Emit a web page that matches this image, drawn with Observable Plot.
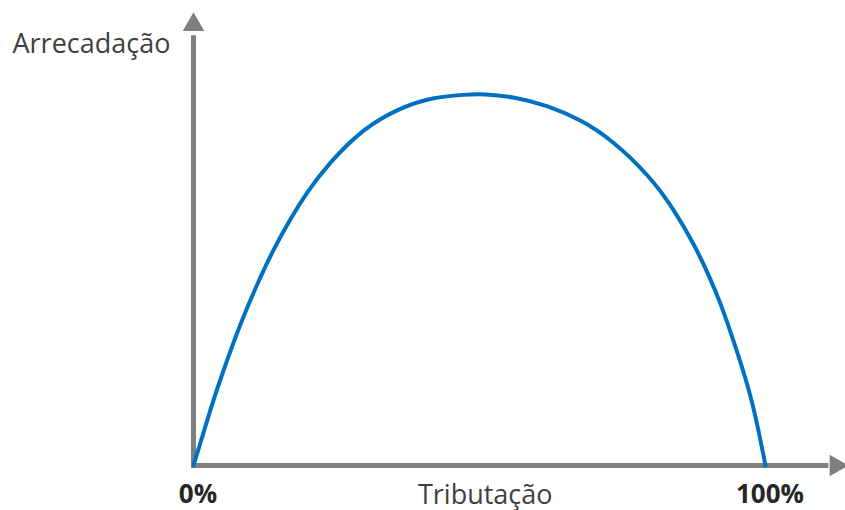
<!DOCTYPE html>
<html>
<head>
<meta charset="utf-8">
<script src="https://cdn.jsdelivr.net/npm/d3@7"></script>
<script src="https://cdn.jsdelivr.net/npm/@observablehq/plot@0.6"></script>
<style>
  body { margin: 0; background: #fff; }
</style>
</head>
<body>
<div id="chart"></div>
<script>
// Tax rate (%) and relative revenue
const tributacao = [0, 3, 5.2, 8.2, 11.2, 14, 17, 20, 24, 29.7, 35.7, 41.4, 47.2, 51, 55.9, 61.9, 67.7, 73.4, 79.4, 83.9, 87.4, 89.9, 92.1, 94.4, 96.9, 98.6, 100];
const arrecadacao = [0, 15.2, 25.4, 38.0, 49.0, 58.1, 66.5, 73.8, 81.7, 90.2, 95.8, 98.8, 99.9, 100, 99.2, 96.8, 92.9, 87.0, 78.1, 68.9, 59.7, 51.8, 43.7, 33.6, 21.3, 10.6, 0];
const xTicks = [0, 100];
const xLabel = "Tributação";
const yLabel = "Arrecadação";

const curve = tributacao.map((t, i) => ({t, r: arrecadacao[i]}));
const axisColor = "#7f7f7f";
const font = "'Open Sans', sans-serif";

const chart = Plot.plot({
  width: 845,
  height: 510,
  marginLeft: 193,
  marginRight: 80,
  marginTop: 94,
  marginBottom: 45,
  style: {fontFamily: font, background: "#fff", overflow: "visible"},
  x: {domain: [0, 100], axis: null},
  y: {domain: [0, 100], axis: null},
  marks: [
    // axes lines
    Plot.link([{x1: -0.4, y1: 0, x2: 111, y2: 0}], {x1: "x1", y1: "y1", x2: "x2", y2: "y2", stroke: axisColor, strokeWidth: 5, clip: false}),
    Plot.link([{x1: 0, y1: -0.6, x2: 0, y2: 116}], {x1: "x1", y1: "y1", x2: "x2", y2: "y2", stroke: axisColor, strokeWidth: 5, clip: false}),
    // arrow heads
    Plot.dot([{x: 112.3, y: 0}], {x: "x", y: "y", symbol: "triangle", r: 8, fill: axisColor, rotate: 90, clip: false}),
    Plot.dot([{x: 0, y: 118.8}], {x: "x", y: "y", symbol: "triangle", r: 8, fill: axisColor, clip: false}),
    // Laffer curve
    Plot.line(curve, {x: "t", y: "r", stroke: "#0070c0", strokeWidth: 4, curve: "natural"}),
    // tick labels
    Plot.text(xTicks, {x: d => d, frameAnchor: "bottom", text: d => d + "%", lineAnchor: "bottom", dy: 37, dx: 4.5, fontSize: 26, fontWeight: "bold", fill: "#262626"}),
    // axis labels
    Plot.text([xLabel], {x: 51, frameAnchor: "bottom", text: d => d, lineAnchor: "bottom", dy: 38, fontSize: 27, fill: "#404040"}),
    Plot.text([yLabel], {frameAnchor: "top-left", text: d => d, lineAnchor: "bottom", dx: -181, dy: -42, textAnchor: "start", fontSize: 27, fill: "#404040"})
  ]
});
document.getElementById("chart").appendChild(chart);
</script>
</body>
</html>
